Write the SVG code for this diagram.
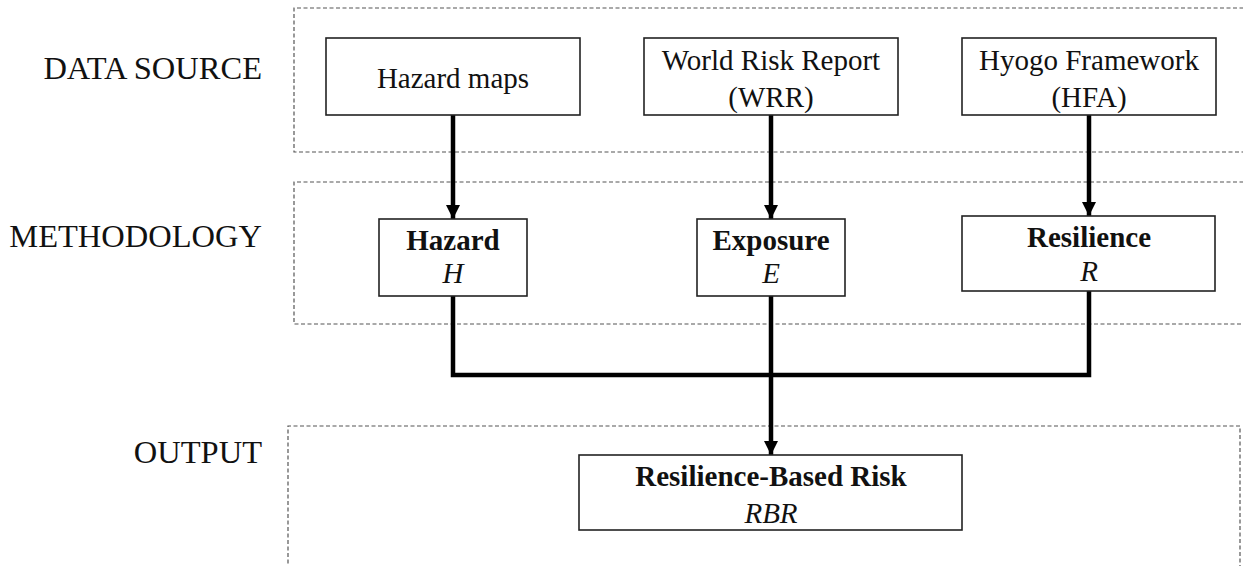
<svg xmlns="http://www.w3.org/2000/svg" width="1243" height="566" viewBox="0 0 1243 566">
<style>
.zone{fill:none;stroke:#555;stroke-width:1.2;stroke-dasharray:4 2.5}
.box{fill:#fff;stroke:#222;stroke-width:1.6}
.lbl{font-family:"Liberation Serif","Times New Roman",serif;font-size:32.5px;fill:#111;text-anchor:end}
.t{font-family:"Liberation Serif","Times New Roman",serif;font-size:29px;fill:#111;text-anchor:middle}
.b{font-weight:bold}
.i{font-style:italic}
.con{fill:none;stroke:#000;stroke-width:4.5}
</style>
<defs>
<marker id="ah" viewBox="0 0 14 14" refX="14" refY="7" markerWidth="14" markerHeight="14" markerUnits="userSpaceOnUse" orient="auto">
<path d="M0,0 L14,7 L0,14 Z" fill="#000"/>
</marker>
</defs>
<rect width="1243" height="566" fill="#fff"/>
<g id="zones">
<path class="zone" d="M1250,8 H294 V152 H1250"/>
<path class="zone" d="M1250,182 H294 V324 H1250"/>
<path class="zone" d="M288,570 V426 H1240 V570"/>
</g>
<g id="labels">
<text class="lbl" x="262" y="79">DATA SOURCE</text>
<text class="lbl" x="262" y="247">METHODOLOGY</text>
<text class="lbl" x="262" y="463">OUTPUT</text>
</g>
<g id="connectors">
<line class="con" x1="453" y1="115" x2="453" y2="219" marker-end="url(#ah)"/>
<line class="con" x1="771" y1="115" x2="771" y2="219" marker-end="url(#ah)"/>
<line class="con" x1="1089" y1="115" x2="1089" y2="216" marker-end="url(#ah)"/>
<path class="con" d="M453,296 V375 H1089 V291"/>
<line class="con" x1="771" y1="296" x2="771" y2="455" marker-end="url(#ah)"/>
</g>
<g id="hazard-maps">
<rect class="box" x="326" y="38" width="254" height="77"/>
<text class="t" x="453" y="88">Hazard maps</text>
</g>
<g id="wrr">
<rect class="box" x="644" y="38" width="254" height="77"/>
<text class="t" x="771" y="70">World Risk Report</text>
<text class="t" x="771" y="107">(WRR)</text>
</g>
<g id="hfa">
<rect class="box" x="962" y="38" width="254" height="77"/>
<text class="t" x="1089" y="70">Hyogo Framework</text>
<text class="t" x="1089" y="107">(HFA)</text>
</g>
<g id="hazard">
<rect class="box" x="379" y="219" width="148" height="77"/>
<text class="t b" x="453" y="250">Hazard</text>
<text class="t i" x="453" y="283">H</text>
</g>
<g id="exposure">
<rect class="box" x="697" y="219" width="148" height="77"/>
<text class="t b" x="771" y="250">Exposure</text>
<text class="t i" x="771" y="283">E</text>
</g>
<g id="resilience">
<rect class="box" x="962" y="216" width="253" height="75"/>
<text class="t b" x="1089" y="247">Resilience</text>
<text class="t i" x="1089" y="281">R</text>
</g>
<g id="rbr">
<rect class="box" x="579" y="455" width="383" height="75"/>
<text class="t b" x="771" y="486">Resilience-Based Risk</text>
<text class="t i" x="771" y="523">RBR</text>
</g>
</svg>
